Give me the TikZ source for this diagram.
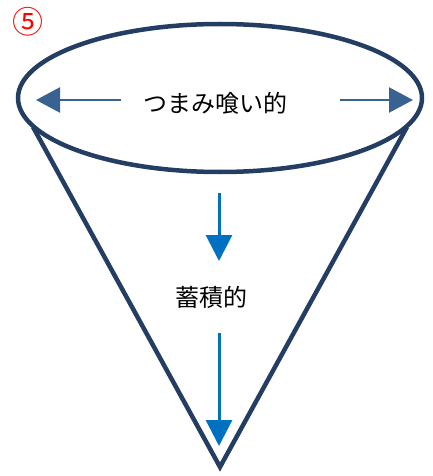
\documentclass[tikz,border=0pt]{standalone}
\usepackage{fontspec}
\newfontfamily\jpfont{Noto Sans CJK JP}
\usetikzlibrary{arrows.meta,%
                shapes.geometric}

\definecolor{navy}{RGB}{36,62,99}
\definecolor{steel}{RGB}{56,98,146}
\definecolor{flow}{RGB}{0,112,192}

\begin{document}
\begin{tikzpicture}[x=1pt,y=-1pt]
		\tikzstyle{RimStyle}=[draw=navy,line width=4.5pt,ellipse,inner sep=0pt,
		                      minimum width=404pt,minimum height=148pt]
		\tikzstyle{SideStyle}=[draw=navy,line width=4.5pt,line join=miter]
		\tikzstyle{SpreadStyle}=[draw=steel,line width=2.4pt,
		                         -{Triangle[length=24pt,width=25pt]}]
		\tikzstyle{DownStyle}=[draw=flow,line width=3pt,
		                       -{Triangle[length=26pt,width=26pt]}]
		\tikzstyle{LabelStyle}=[font=\jpfont\fontsize{24}{24}\selectfont,inner sep=0pt]
		\useasboundingbox (0,0) rectangle (433,476);
		% cone
		\coordinate (tip) at (220,467);
		\coordinate (rimL) at (33,127);
		\coordinate (rimR) at (407,127);
		\draw[SideStyle] (rimL) -- (tip) -- (rimR);
		\node[RimStyle] (rim) at (220,98) {};
		% labels
		\node[red,font=\jpfont\fontsize{31}{31}\selectfont,inner sep=0pt] (num) at (28,22) {⑤};
		\node[LabelStyle] (top) at (215,103) {つまみ喰い的};
		\node[LabelStyle] (mid) at (211,297) {蓄積的};
		% arrows
		\coordinate (aL0) at (121,100);
		\coordinate (aL1) at (36,100);
		\coordinate (aR0) at (340,100);
		\coordinate (aR1) at (413,100);
		\draw[SpreadStyle] (aL0) -- (aL1);
		\draw[SpreadStyle] (aR0) -- (aR1);
		\coordinate (d1) at (219,193);
		\coordinate (d2) at (219,261);
		\coordinate (d3) at (219,333);
		\coordinate (d4) at (219,446);
		\draw[DownStyle] (d1) -- (d2);
		\draw[DownStyle] (d3) -- (d4);
	\end{tikzpicture}
\end{document}
